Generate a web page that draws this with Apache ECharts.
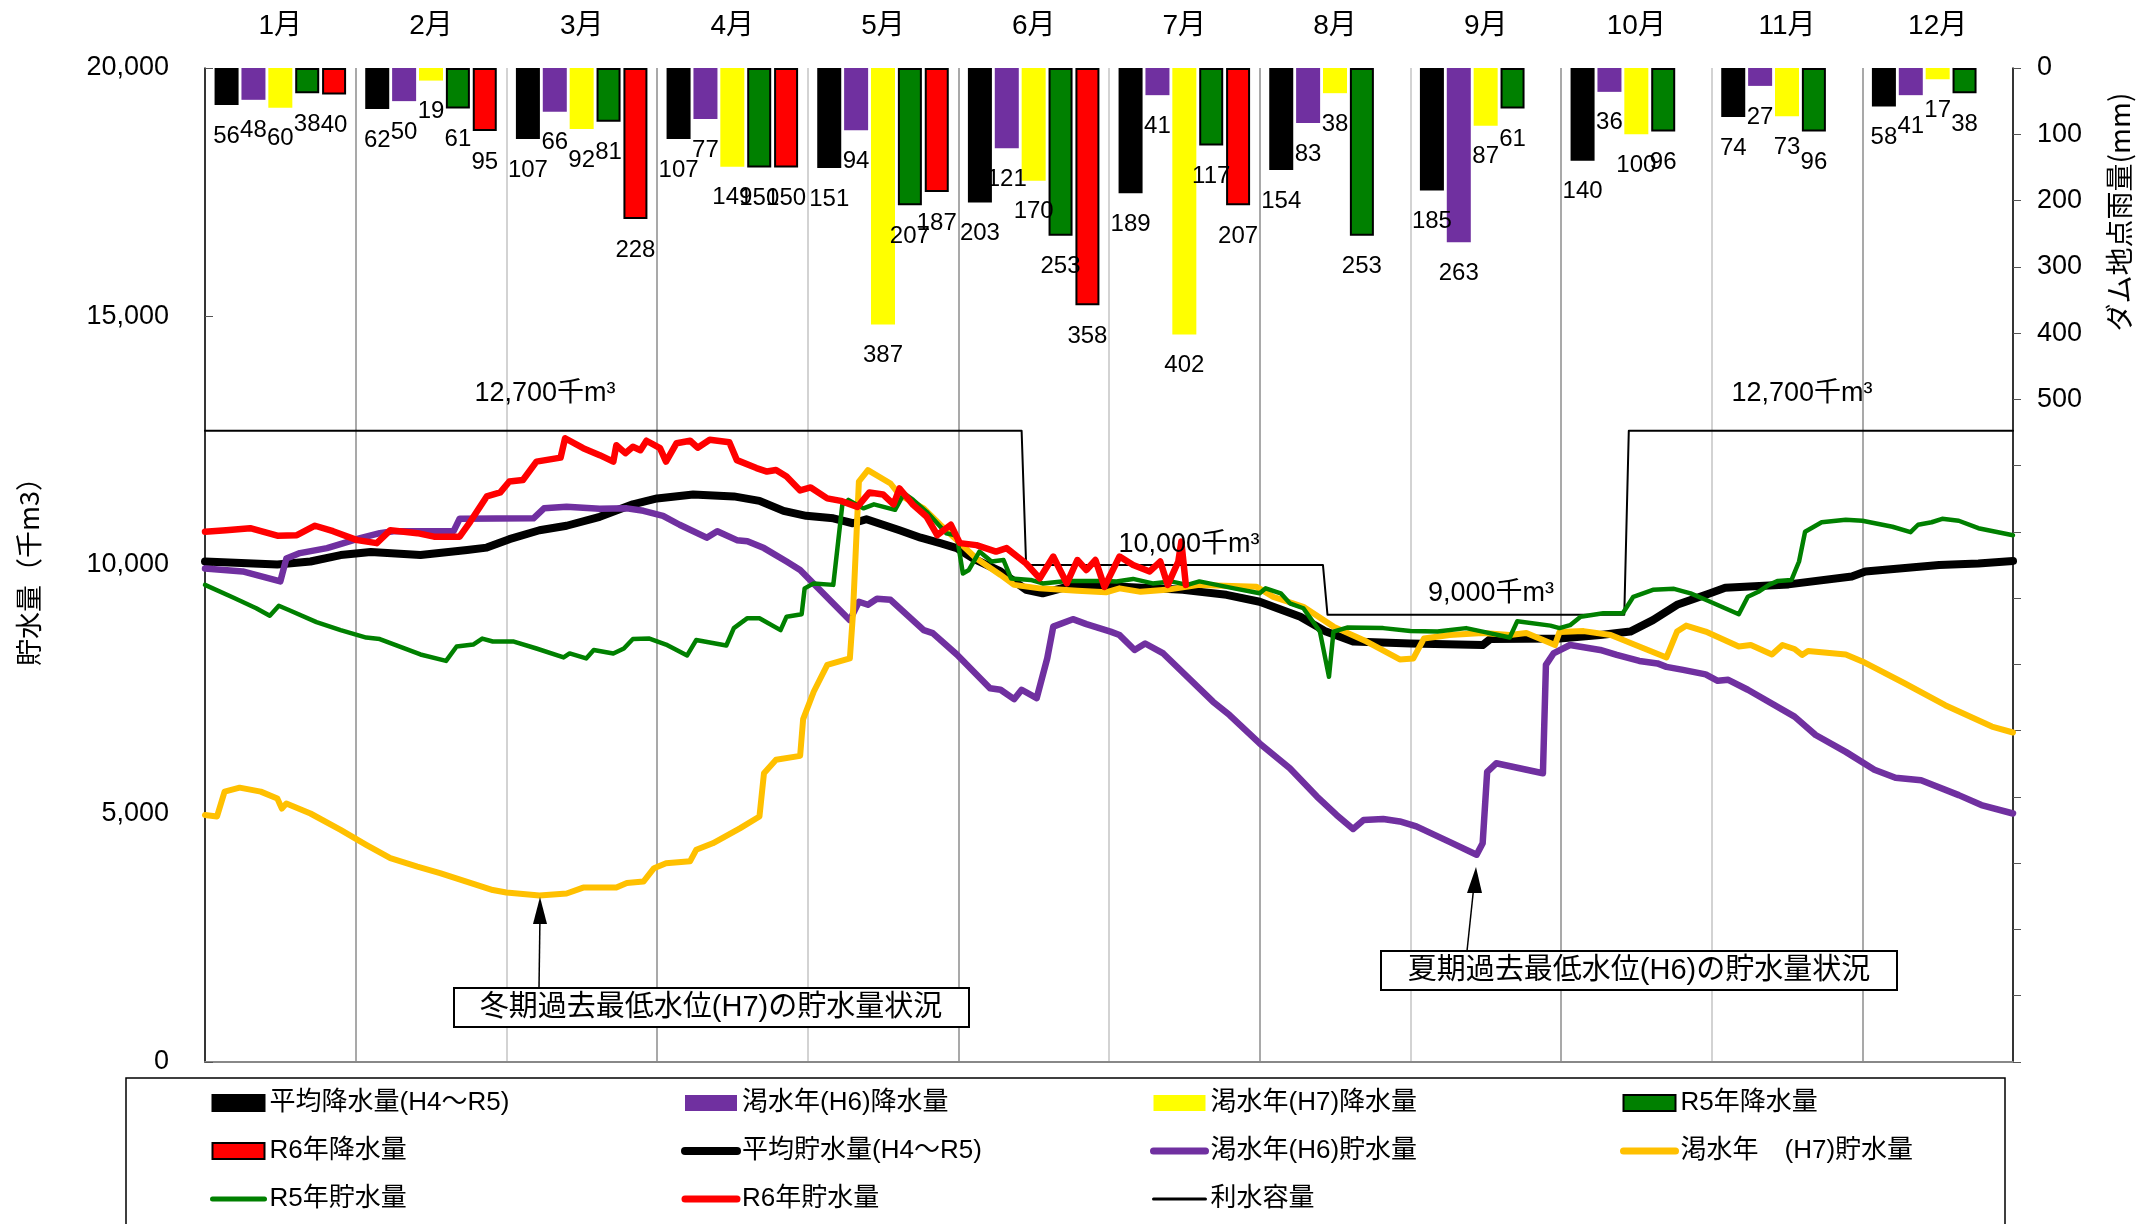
<!DOCTYPE html>
<html>
<head>
<meta charset="utf-8">
<title>貯水量と降水量</title>
<script src="https://cdn.jsdelivr.net/npm/echarts@6.0.0/dist/echarts.min.js"></script>
<style>
  html, body { margin: 0; padding: 0; background: #fff; }
  #chart { width: 2138px; height: 1224px; }
</style>
</head>
<body>
<div id="chart"></div>
<script>
// ---- data ----
const months = ['1月', '2月', '3月', '4月', '5月', '6月', '7月', '8月', '9月', '10月', '11月', '12月'];

// monthly rainfall at the dam (mm)
const rainAvg = [56, 62, 107, 107, 151, 203, 189, 154, 185, 140, 74, 58];
const rainH6 = [48, 50, 66, 77, 94, 121, 41, 83, 263, 36, 27, 41];
const rainH7 = [60, 19, 92, 149, 387, 170, 402, 38, 87, 100, 73, 17];
const rainR5 = [38, 61, 81, 150, 207, 253, 117, 253, 61, 96, 96, 38];
const rainR6 = [40, 95, 228, 150, 187, 358, 207, null, null, null, null, null];

// storage (千m3), x = months elapsed since 1 Jan
const storageAvg = [[0,10070],[0.48,10010],[0.70,10070],[0.90,10200],[1.10,10260],[1.43,10200],[1.74,10300],[1.87,10350],[2.02,10520],[2.22,10700],[2.40,10790],[2.62,10970],[2.84,11220],[3.00,11340],[3.24,11420],[3.51,11380],[3.68,11290],[3.84,11090],[3.99,10990],[4.17,10940],[4.30,10840],[4.39,10920],[4.61,10700],[4.75,10550],[4.88,10440],[4.99,10340],[5.10,10130],[5.28,9870],[5.45,9500],[5.56,9430],[5.72,9560],[5.98,9580],[6.49,9500],[6.78,9400],[7.00,9260],[7.27,8960],[7.44,8660],[7.62,8460],[8.00,8420],[8.48,8390],[8.53,8510],[8.99,8520],[9.26,8590],[9.46,8660],[9.61,8890],[9.77,9200],[9.99,9430],[10.09,9540],[10.51,9610],[10.93,9770],[11.02,9870],[11.51,10000],[11.77,10030],[12,10080]];
const storageH6 = [[0,9930],[0.25,9870],[0.50,9670],[0.54,10130],[0.63,10240],[0.81,10340],[1.03,10540],[1.16,10640],[1.25,10680],[1.65,10680],[1.69,10930],[2.18,10940],[2.25,11140],[2.40,11170],[2.62,11130],[2.80,11140],[2.91,11090],[3.04,10990],[3.15,10810],[3.33,10550],[3.40,10680],[3.53,10500],[3.60,10480],[3.71,10340],[3.86,10070],[3.95,9900],[4.28,8890],[4.34,9260],[4.40,9200],[4.46,9320],[4.55,9300],[4.77,8690],[4.83,8630],[4.99,8200],[5.21,7520],[5.28,7490],[5.37,7300],[5.42,7490],[5.52,7320],[5.59,8120],[5.63,8760],[5.76,8910],[5.85,8810],[6.01,8660],[6.07,8590],[6.17,8290],[6.24,8420],[6.36,8220],[6.69,7250],[6.80,6980],[7.00,6410],[7.20,5910],[7.38,5340],[7.51,4970],[7.62,4690],[7.69,4870],[7.82,4890],[7.93,4840],[8.04,4740],[8.26,4430],[8.44,4170],[8.48,4400],[8.51,5840],[8.57,6010],[8.88,5810],[8.90,7990],[8.95,8220],[9.06,8390],[9.26,8290],[9.37,8190],[9.52,8070],[9.64,8020],[9.70,7950],[9.81,7890],[9.96,7800],[10.04,7670],[10.11,7690],[10.24,7490],[10.55,6950],[10.69,6580],[10.89,6240],[11.08,5880],[11.22,5720],[11.39,5670],[11.64,5370],[11.79,5170],[12,5000]];
const storageH7 = [[0,4970],[0.08,4940],[0.13,5440],[0.23,5520],[0.37,5440],[0.48,5300],[0.51,5100],[0.54,5200],[0.70,5000],[0.90,4670],[1.07,4370],[1.23,4100],[1.41,3930],[1.56,3800],[1.91,3460],[2.00,3410],[2.22,3350],[2.40,3390],[2.51,3510],[2.73,3510],[2.80,3600],[2.91,3630],[2.98,3900],[3.06,4000],[3.22,4040],[3.26,4270],[3.37,4400],[3.55,4700],[3.68,4940],[3.71,5810],[3.79,6080],[3.95,6160],[3.97,6900],[4.04,7450],[4.13,7990],[4.28,8120],[4.30,8990],[4.34,11680],[4.40,11910],[4.55,11640],[4.61,11410],[4.77,11140],[4.88,10810],[4.99,10500],[5.12,10130],[5.28,9800],[5.37,9600],[5.54,9530],[5.79,9480],[5.98,9450],[6.07,9530],[6.21,9460],[6.38,9500],[6.60,9600],[6.98,9560],[7.09,9360],[7.29,9160],[7.49,8760],[7.71,8460],[7.93,8100],[8.02,8120],[8.09,8520],[8.26,8590],[8.48,8630],[8.66,8590],[8.77,8630],[8.96,8390],[8.99,8650],[9.15,8670],[9.33,8590],[9.70,8140],[9.77,8660],[9.83,8780],[9.96,8660],[10.18,8360],[10.26,8390],[10.40,8200],[10.47,8390],[10.55,8310],[10.60,8190],[10.64,8270],[10.89,8200],[11.00,8060],[11.28,7620],[11.55,7180],[11.86,6750],[12,6630]];
const storageR5 = [[0,9600],[0.19,9340],[0.34,9130],[0.43,8980],[0.49,9180],[0.56,9090],[0.74,8850],[0.90,8690],[1.07,8540],[1.16,8510],[1.43,8200],[1.60,8070],[1.67,8360],[1.78,8400],[1.84,8520],[1.91,8460],[2.05,8460],[2.20,8320],[2.38,8140],[2.42,8220],[2.53,8120],[2.58,8290],[2.71,8220],[2.78,8320],[2.84,8510],[2.95,8520],[3.06,8400],[3.20,8180],[3.26,8490],[3.46,8380],[3.51,8730],[3.60,8930],[3.68,8930],[3.82,8690],[3.86,8960],[3.96,9010],[3.98,9530],[4.04,9630],[4.17,9600],[4.23,11210],[4.27,11310],[4.37,11140],[4.44,11220],[4.58,11110],[4.64,11440],[4.70,11310],[4.79,11070],[4.86,10840],[4.92,10640],[4.99,10590],[5.03,9830],[5.07,9900],[5.14,10270],[5.22,10070],[5.30,10100],[5.35,9730],[5.48,9700],[5.56,9630],[5.72,9680],[5.98,9680],[6.05,9670],[6.16,9720],[6.29,9630],[6.41,9670],[6.52,9600],[6.60,9670],[6.83,9530],[7.00,9430],[7.04,9530],[7.14,9430],[7.20,9230],[7.29,9130],[7.40,8660],[7.46,7750],[7.49,8660],[7.58,8740],[7.82,8730],[8.00,8670],[8.18,8660],[8.37,8730],[8.48,8660],[8.66,8540],[8.71,8870],[8.93,8780],[8.99,8730],[9.06,8790],[9.13,8960],[9.28,9030],[9.41,9030],[9.48,9360],[9.61,9500],[9.75,9520],[9.86,9430],[9.96,9300],[10.18,9010],[10.24,9360],[10.31,9460],[10.38,9600],[10.44,9680],[10.53,9700],[10.58,10070],[10.62,10670],[10.73,10860],[10.89,10910],[11.00,10890],[11.20,10770],[11.32,10660],[11.37,10810],[11.46,10860],[11.53,10930],[11.64,10890],[11.77,10740],[12,10600]];
const storageR6 = [[0,10670],[0.14,10700],[0.30,10740],[0.48,10590],[0.61,10600],[0.73,10790],[0.85,10680],[1.01,10500],[1.14,10440],[1.23,10700],[1.41,10640],[1.52,10570],[1.69,10570],[1.76,10870],[1.87,11380],[1.96,11460],[2.02,11680],[2.11,11710],[2.20,12080],[2.36,12160],[2.39,12550],[2.51,12350],[2.62,12210],[2.71,12080],[2.73,12410],[2.79,12250],[2.84,12380],[2.89,12310],[2.93,12500],[3.02,12350],[3.06,12080],[3.13,12450],[3.22,12500],[3.27,12360],[3.35,12520],[3.48,12470],[3.53,12110],[3.66,11950],[3.73,11880],[3.79,11910],[3.86,11780],[3.95,11500],[4.02,11560],[4.13,11340],[4.22,11290],[4.33,11170],[4.41,11460],[4.50,11420],[4.57,11220],[4.61,11540],[4.70,11210],[4.79,10970],[4.86,10600],[4.95,10810],[5.01,10440],[5.12,10400],[5.25,10270],[5.32,10340],[5.45,10030],[5.54,9730],[5.63,10170],[5.72,9630],[5.79,10100],[5.85,9900],[5.91,10100],[5.97,9560],[6.07,10170],[6.16,10000],[6.27,9870],[6.34,10070],[6.39,9600],[6.46,10070],[6.48,10470],[6.51,9600]];
const capacity = [[0,12700],[5.42,12700],[5.45,10000],[7.42,10000],[7.45,9000],[9.42,9000],[9.45,12700],[12,12700]];

const storageTicks = [0, 5000, 10000, 15000, 20000];
const rainLabelMax = 500;

// ---- styling ----
const FONT = '"Liberation Sans", Arial, "Noto Sans CJK JP", sans-serif';
const JP = '"Noto Sans CJK JP", "Liberation Sans", sans-serif';

const chart = echarts.init(document.getElementById('chart'));

function barSeries(name, data, color, border) {
    return {
        name: name,
        type: 'bar',
        xAxisIndex: 0,
        yAxisIndex: 1,
        data: data,
        barWidth: 24,
        barGap: '12%',
        itemStyle: { color: color, borderColor: '#000', borderWidth: border ? 2 : 0 },
        label: {
            show: true,
            position: 'bottom',
            distance: 19,
            color: '#000',
            fontSize: 24,
            fontFamily: FONT
        },
        z: 2
    };
}

function lineSeries(name, data, color, width) {
    return {
        name: name,
        type: 'line',
        xAxisIndex: 1,
        yAxisIndex: 0,
        data: data,
        symbol: 'none',
        lineStyle: { color: color, width: width, join: 'round', cap: 'round' },
        itemStyle: { color: color },
        z: 3
    };
}

// legend columns (name, kind, colour, width)
const legendCols = [
    [['平均降水量(H4～R5)', 'bar'], ['R6年降水量', 'bar'], ['R5年貯水量', 'line', '#008000', 5]],
    [['渇水年(H6)降水量', 'bar'], ['平均貯水量(H4～R5)', 'line', '#000', 8], ['R6年貯水量', 'line', '#ff0000', 7]],
    [['渇水年(H7)降水量', 'bar'], ['渇水年(H6)貯水量', 'line', '#7030a0', 7], ['利水容量', 'line', '#000', 3]],
    [['R5年降水量', 'bar'], ['渇水年　(H7)貯水量', 'line', '#ffc000', 7]]
];
const legendLeft = [210, 681, 1150, 1620];

const legends = legendCols.map((col, i) => ({
    orient: 'vertical',
    left: legendLeft[i],
    top: 1089,
    padding: 0,
    itemWidth: 52,
    itemHeight: 16,
    itemGap: 20,
    selectedMode: false,
    textStyle: { fontSize: 26, lineHeight: 28, color: '#000', fontFamily: FONT },
    data: col.map(it => it[1] === 'bar'
        ? { name: it[0], icon: 'rect' }
        : { name: it[0], lineStyle: { color: it[2], width: it[3] }, itemStyle: { opacity: 0 } })
}));

const capText = (txt, x, y) => ({
    type: 'text', x: x, y: y, z: 20,
    style: { text: txt, fontSize: 27, fontFamily: FONT, fill: '#000', align: 'center', verticalAlign: 'middle' }
});

const option = {
    animation: false,
    backgroundColor: '#fff',
    grid: { left: 205, right: 125, top: 68, bottom: 162, containLabel: false, outerBoundsMode: 'none' },
    legend: legends,
    xAxis: [
        {
            type: 'category',
            position: 'top',
            data: months,
            axisLine: { show: true, lineStyle: { color: '#000', width: 2 } },
            axisTick: { show: false },
            axisLabel: { color: '#000', fontSize: 28, margin: 28, fontFamily: FONT },
            splitLine: { show: false }
        },
        {
            type: 'value',
            position: 'bottom',
            min: 0,
            max: 12,
            interval: 1,
            axisLine: { show: true, onZero: false, lineStyle: { color: '#888', width: 2 } },
            axisTick: { show: false },
            axisLabel: { show: false },
            splitLine: { show: true, lineStyle: { color: ['#c4c4c4', '#8c8c8c'], width: 1.5 } }
        }
    ],
    yAxis: [
        {
            type: 'value',
            position: 'left',
            min: storageTicks[0],
            max: storageTicks[storageTicks.length - 1],
            interval: 5000,
            name: '貯水量（千m3）',
            nameLocation: 'middle',
            nameGap: 163,
            nameTextStyle: { fontSize: 27, color: '#000', fontFamily: JP },
            axisLine: { show: true, lineStyle: { color: '#000', width: 1.5 } },
            axisTick: { show: true, inside: true, length: 8, lineStyle: { color: '#555' } },
            axisLabel: {
                color: '#000', fontSize: 27, margin: 36, fontFamily: FONT,
                formatter: v => v.toLocaleString('en-US')
            },
            splitLine: { show: false }
        },
        {
            type: 'value',
            position: 'right',
            inverse: true,
            min: 0,
            max: 1500,
            interval: 100,
            axisLine: { show: true, lineStyle: { color: '#000', width: 1.5 } },
            axisTick: { show: true, inside: false, length: 8, lineStyle: { color: '#555' } },
            axisLabel: {
                color: '#000', fontSize: 27, margin: 24, fontFamily: FONT,
                formatter: v => (v <= rainLabelMax ? String(v) : '')
            },
            splitLine: { show: false }
        }
    ],
    series: [
        barSeries('平均降水量(H4～R5)', rainAvg, '#000000', true),
        barSeries('渇水年(H6)降水量', rainH6, '#7030a0', false),
        barSeries('渇水年(H7)降水量', rainH7, '#ffff00', false),
        barSeries('R5年降水量', rainR5, '#008000', true),
        barSeries('R6年降水量', rainR6, '#ff0000', true),
        lineSeries('利水容量', capacity, '#000', 2),
        lineSeries('平均貯水量(H4～R5)', storageAvg, '#000', 8),
        lineSeries('渇水年(H6)貯水量', storageH6, '#7030a0', 6.5),
        lineSeries('渇水年　(H7)貯水量', storageH7, '#ffc000', 6),
        lineSeries('R5年貯水量', storageR5, '#008000', 4.5),
        lineSeries('R6年貯水量', storageR6, '#ff0000', 6.5)
    ],
    graphic: [
        // legend frame (runs off the bottom edge like the original)
        { type: 'rect', z: 0, silent: true, shape: { x: 126, y: 1078, width: 1879, height: 200 },
          style: { fill: 'none', stroke: '#000', lineWidth: 1.5 } },
        // right axis title
        { type: 'text', x: 2119, y: 212, rotation: Math.PI / 2, z: 20,
          style: { text: 'ダム地点雨量(mm)', fontSize: 28, fontFamily: JP, fill: '#000', align: 'center', verticalAlign: 'middle' } },
        capText('12,700千m³', 545, 394),
        capText('12,700千m³', 1802, 394),
        capText('10,000千m³', 1189, 545),
        capText('9,000千m³', 1491, 594),
        // winter annotation
        { type: 'line', z: 20, shape: { x1: 539, y1: 988, x2: 540, y2: 915 }, style: { stroke: '#000', lineWidth: 1.5 } },
        { type: 'polygon', z: 20, shape: { points: [[540, 897], [533, 924], [547, 924]] }, style: { fill: '#000' } },
        { type: 'rect', z: 20, shape: { x: 454, y: 988, width: 515, height: 39 }, style: { fill: '#fff', stroke: '#000', lineWidth: 2 } },
        { type: 'text', z: 21, x: 711, y: 1008,
          style: { text: '冬期過去最低水位(H7)の貯水量状況', fontSize: 29, fontFamily: FONT, fill: '#000', align: 'center', verticalAlign: 'middle' } },
        // summer annotation
        { type: 'line', z: 20, shape: { x1: 1467, y1: 951, x2: 1474, y2: 885 }, style: { stroke: '#000', lineWidth: 1.5 } },
        { type: 'polygon', z: 20, shape: { points: [[1476, 867], [1467, 893], [1482, 893]] }, style: { fill: '#000' } },
        { type: 'rect', z: 20, shape: { x: 1381, y: 951, width: 516, height: 39 }, style: { fill: '#fff', stroke: '#000', lineWidth: 2 } },
        { type: 'text', z: 21, x: 1639, y: 971,
          style: { text: '夏期過去最低水位(H6)の貯水量状況', fontSize: 29, fontFamily: FONT, fill: '#000', align: 'center', verticalAlign: 'middle' } }
    ]
};

option && chart.setOption(option);
</script>
</body>
</html>
